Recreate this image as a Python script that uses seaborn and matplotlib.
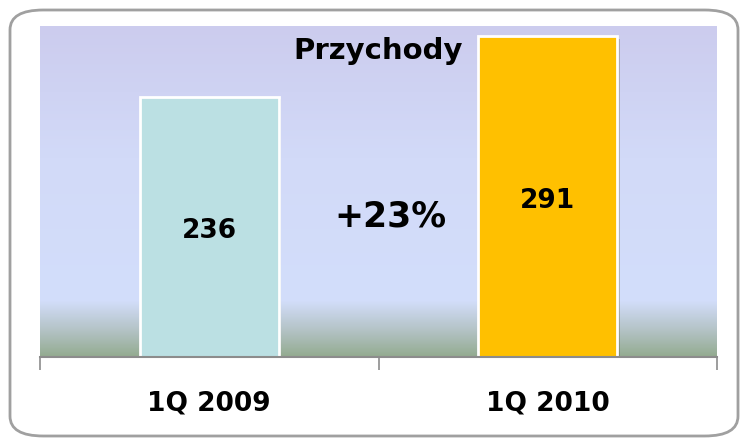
import numpy as np
import matplotlib
matplotlib.use("Agg")
import matplotlib.pyplot as plt
import matplotlib.patheffects as pe
from matplotlib.colors import LinearSegmentedColormap
from matplotlib.patches import FancyBboxPatch
import seaborn as sns

# data
categories = ["1Q 2009", "1Q 2010"]
values = [236, 291]
bar_colors = ["#BBE0E3", "#FFC000"]
title = "Przychody"
change_label = "+23%"

sns.set_theme(style="white")
plt.rcParams["font.family"] = ["DejaVu Sans"]

fig = plt.figure(figsize=(7.4, 4.4), dpi=100)
ax = fig.add_axes([40 / 740, 83 / 440, 677 / 740, 331 / 440])

# background gradient of the plot area
bg = LinearSegmentedColormap.from_list(
    "bg",
    [(0.0, "#93AB90"), (0.08, "#B4C3C6"), (0.17, "#D3DEFB"),
     (0.6, "#D2DAF8"), (1.0, "#CCCCEE")],
)
grad = np.linspace(0, 1, 256).reshape(-1, 1)
ax.imshow(grad, cmap=bg, origin="lower", aspect="auto",
          extent=(-0.5, 1.5, 0, 300), zorder=0)

sns.barplot(x=categories, y=values, hue=categories, palette=bar_colors,
            legend=False, width=0.41, edgecolor="white", linewidth=2,
            saturation=1, ax=ax, zorder=2)
for p in ax.patches:
    p.set_path_effects([pe.SimplePatchShadow(offset=(2, -2), alpha=0.25),
                        pe.Normal()])

ax.set_xlim(-0.5, 1.5)
ax.set_ylim(0, 300)

# value labels, placed around mid-height like the original
for i, v in enumerate(values):
    ax.text(i, v * 0.485, str(v), ha="center", va="center",
            fontsize=19, fontweight="bold", color="black", zorder=3)
ax.text(0.535, 127, change_label, ha="center", va="center",
        fontsize=25, fontweight="bold", color="black", zorder=3)
ax.text(0.5, 277, title, ha="center", va="center", fontsize=21,
        fontweight="bold", color="black", zorder=3)

# axes styling
for s in ["top", "right", "left"]:
    ax.spines[s].set_visible(False)
ax.spines["bottom"].set_color("#8C8C8C")
ax.spines["bottom"].set_linewidth(1.5)
ax.set_yticks([])
ax.set_xticks([0, 1])
ax.set_xticklabels(categories, fontsize=19, fontweight="bold", color="black")
ax.tick_params(axis="x", which="major", length=0, pad=24)
ax.set_xticks([-0.5, 0.5, 1.5], minor=True)
ax.tick_params(axis="x", which="minor", length=9, width=1.2,
               color="#8C8C8C", bottom=True)
ax.set_xlabel("")
ax.set_ylabel("")

# rounded frame around the chart
frame = FancyBboxPatch((10 / 740, 4 / 440), 728 / 740, 426 / 440,
                       boxstyle="round,pad=0,rounding_size=0.045",
                       transform=fig.transFigure, fill=False,
                       edgecolor="#A0A0A0", linewidth=2)
fig.patches.append(frame)

fig.savefig("out.png", dpi=100)
